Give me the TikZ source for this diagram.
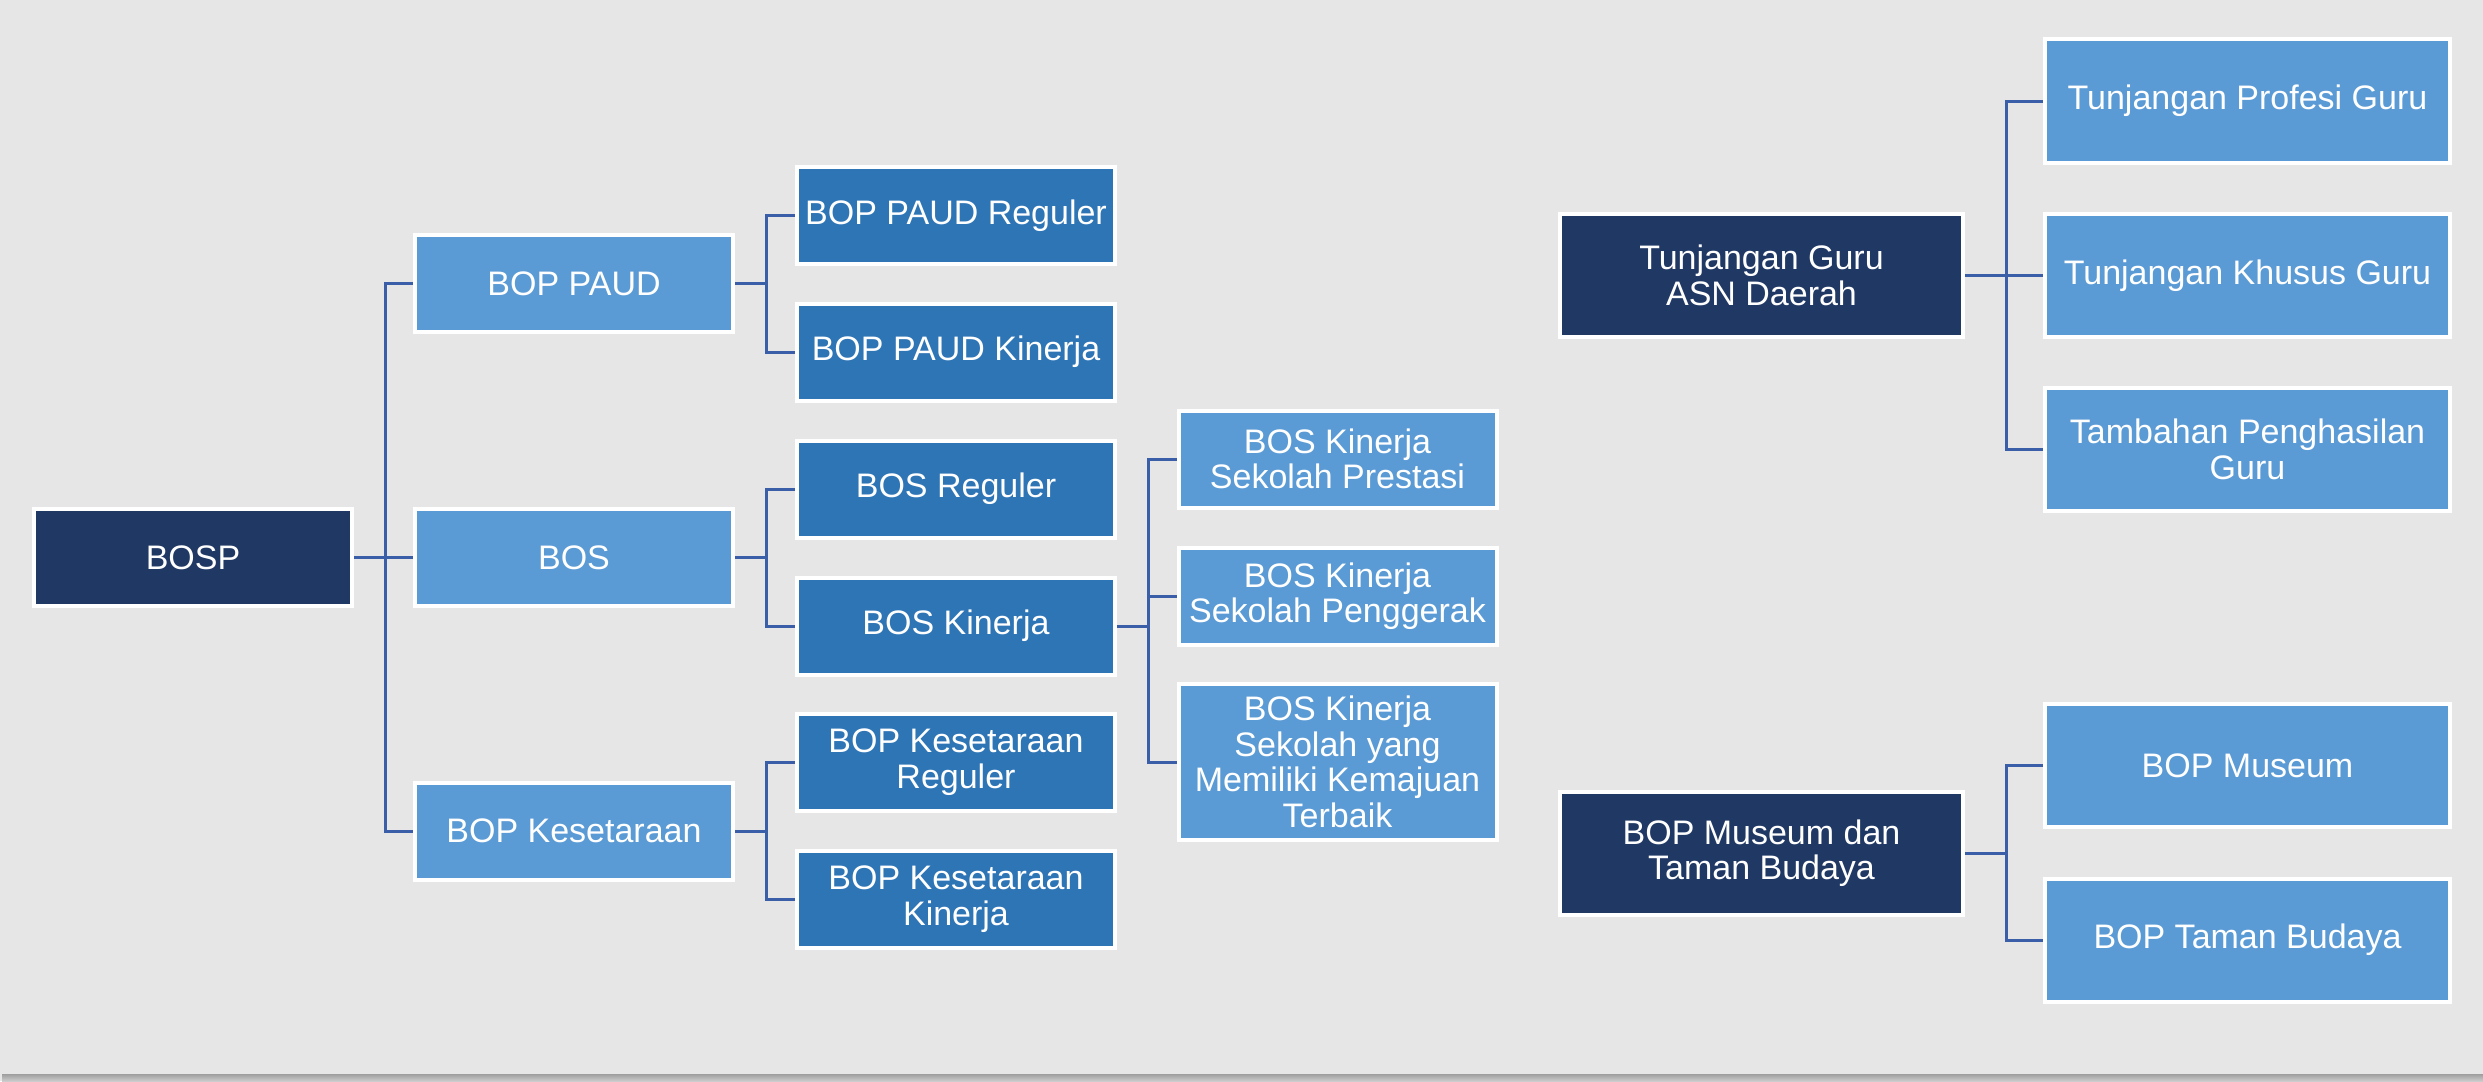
\documentclass[tikz,border=0pt]{standalone}
\usepackage{fontspec}
\setmainfont{Liberation Sans}
\usetikzlibrary{backgrounds}
\definecolor{bgc}{HTML}{E6E6E6}
\definecolor{navy}{HTML}{203864}
\definecolor{midblue}{HTML}{2E75B6}
\definecolor{lightblue}{HTML}{5B9BD5}
\definecolor{linec}{HTML}{3B5EA8}
\begin{document}
\begin{tikzpicture}[x=1pt,y=-1pt,
  box/.style={draw=white, line width=4pt, inner sep=0pt, align=center, text=white,
    font=\fontsize{34}{35.5}\selectfont, minimum width=318pt, minimum height=97pt},
  navybox/.style={box, fill=navy},
  midbox/.style={box, fill=midblue},
  lightbox/.style={box, fill=lightblue},
  widebox/.style={minimum width=405pt, minimum height=123pt},
  conn/.style={draw=linec, line width=3pt}]
\useasboundingbox (0,0) rectangle (2483,1081);
% nodes
\node[navybox] (bosp) at (193,557.5) {BOSP};
\node[lightbox] (paud) at (574,283.5) {BOP PAUD};
\node[lightbox] (bos) at (574,557.5) {BOS};
\node[lightbox] (kes) at (574,831) {BOP Kesetaraan};
\node[midbox] (paudreg) at (956,215.5) {BOP PAUD Reguler};
\node[midbox] (paudkin) at (956,352) {BOP PAUD Kinerja};
\node[midbox] (bosreg) at (956,489) {BOS Reguler};
\node[midbox] (boskin) at (956,626) {BOS Kinerja};
\node[midbox] (kesreg) at (956,762) {BOP Kesetaraan\\Reguler};
\node[midbox] (keskin) at (956,899) {BOP Kesetaraan\\Kinerja};
\node[lightbox] (prestasi) at (1337.5,459) {BOS Kinerja\\Sekolah Prestasi};
\node[lightbox] (penggerak) at (1337.5,596) {BOS Kinerja\\Sekolah Penggerak};
\node[lightbox, minimum height=156pt] (kemajuan) at (1337.5,762) {BOS Kinerja\\Sekolah yang\\Memiliki Kemajuan\\Terbaik};
\node[navybox, widebox, minimum width=403pt] (tguru) at (1761.5,275.5) {Tunjangan Guru\\ASN Daerah};
\node[lightbox, widebox] (profesi) at (2247.5,101) {Tunjangan Profesi Guru};
\node[lightbox, widebox] (khusus) at (2247.5,275.5) {Tunjangan Khusus Guru};
\node[lightbox, widebox] (tambahan) at (2247.5,449.5) {Tambahan Penghasilan\\Guru};
\node[navybox, widebox, minimum width=403pt] (mtb) at (1761.5,853) {BOP Museum dan\\Taman Budaya};
\node[lightbox, widebox] (museum) at (2247.5,765.5) {BOP Museum};
\node[lightbox, widebox] (budaya) at (2247.5,940) {BOP Taman Budaya};
% background and connectors
\begin{scope}[on background layer]
\fill[bgc] (0,0) rectangle (2483,1081);
\shade[top color=black!38, bottom color=black!20] (2,1074) rectangle (2483,1081);
\foreach \c in {paud,bos,kes} \draw[conn] (bosp.east) -- ++(31.5,0) |- (\c.west);
\foreach \c in {paudreg,paudkin} \draw[conn] (paud.east) -- ++(31,0) |- (\c.west);
\foreach \c in {bosreg,boskin} \draw[conn] (bos.east) -- ++(31,0) |- (\c.west);
\foreach \c in {kesreg,keskin} \draw[conn] (kes.east) -- ++(31,0) |- (\c.west);
\foreach \c in {prestasi,penggerak,kemajuan} \draw[conn] (boskin.east) -- ++(31,0) |- (\c.west);
\foreach \c in {profesi,khusus,tambahan} \draw[conn] (tguru.east) -- ++(41.5,0) |- (\c.west);
\foreach \c in {museum,budaya} \draw[conn] (mtb.east) -- ++(41.5,0) |- (\c.west);
\end{scope}
\end{tikzpicture}
\end{document}
